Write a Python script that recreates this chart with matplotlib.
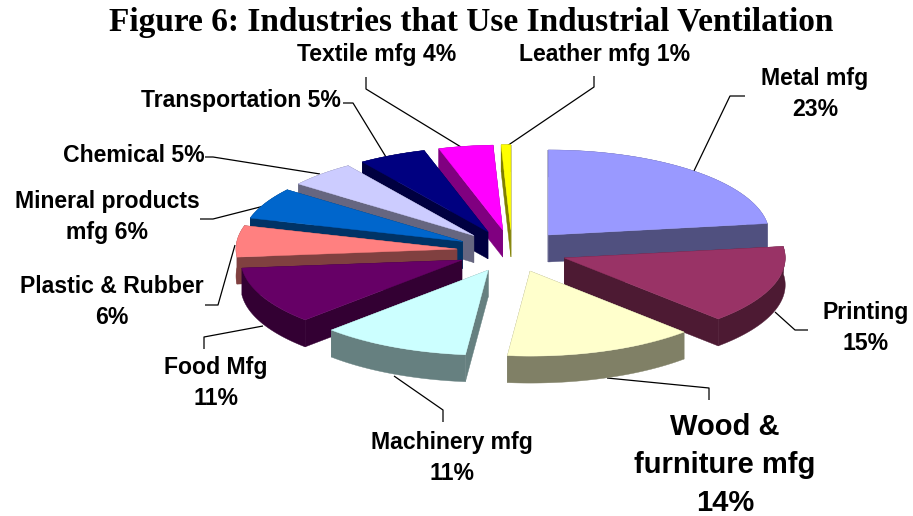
import numpy as np
import matplotlib
matplotlib.use('Agg')
import matplotlib.pyplot as plt
from matplotlib.patches import Polygon

# Data
categories = ['Metal mfg', 'Printing', 'Wood & furniture mfg', 'Machinery mfg', 'Food Mfg',
              'Plastic & Rubber', 'Mineral products mfg', 'Chemical', 'Transportation',
              'Textile mfg', 'Leather mfg']
values = [23, 15, 14, 11, 11, 6, 6, 5, 5, 4, 0.7]   # leather slice reads narrower than a full 1%
top_colors = ['#9999FF', '#993366', '#FFFFCC', '#CCFFFF', '#660066', '#FF8080',
              '#0066CC', '#CCCCFF', '#000080', '#FF00FF', '#FFFF00']
side_colors = ['#50507F', '#4D1A33', '#808066', '#668080', '#330033', '#804040',
               '#003366', '#666680', '#000040', '#800080', '#808000']

W, H = 913, 516
CX, CY, A, B, DEPTH, EXPLODE = 512, 251, 221, 85, 27, 0.25

fig = plt.figure(figsize=(W / 100, H / 100), dpi=100, facecolor='white')
ax = fig.add_axes([0, 0, 1, 1])
ax.set_xlim(0, W)
ax.set_ylim(H, 0)
ax.axis('off')

fracs = np.array(values, float) / sum(values)
edges = np.concatenate([[0], np.cumsum(fracs)]) * 2 * np.pi
mids = (edges[:-1] + edges[1:]) / 2

for i in np.argsort(-np.cos(mids)):
    t0, t1, m = edges[i], edges[i + 1], mids[i]
    ax0 = CX + EXPLODE * A * np.sin(m)
    ay0 = CY - EXPLODE * B * np.cos(m)
    t = np.linspace(t0, t1, 60)
    xs = ax0 + A * np.sin(t)
    ys = ay0 - B * np.cos(t)
    top = np.column_stack([np.r_[ax0, xs], np.r_[ay0, ys]])
    sc, tc = side_colors[i], top_colors[i]
    # two radial cut faces, then the outer rim
    for (px, py) in [(xs[0], ys[0]), (xs[-1], ys[-1])]:
        ax.add_patch(Polygon([(ax0, ay0), (px, py), (px, py + DEPTH), (ax0, ay0 + DEPTH)],
                             fc=sc, ec=sc, lw=0.3, zorder=2))
    rim = np.column_stack([np.r_[xs, xs[::-1]], np.r_[ys, ys[::-1] + DEPTH]])
    ax.add_patch(Polygon(rim, fc=sc, ec=sc, lw=0.3, zorder=2))
    ax.add_patch(Polygon(top, fc=tc, ec=tc, lw=0.3, zorder=2))

# Leader lines
leaders = [
    [(693, 173), (730, 96), (745, 96)],
    [(775, 312), (795, 330), (808, 330)],
    [(607, 378), (709, 388), (709, 400)],
    [(394, 376), (443, 410), (443, 422)],
    [(263, 326), (204, 337), (204, 349)],
    [(235, 245), (218, 305), (205, 305)],
    [(264, 206), (213, 219), (200, 219)],
    [(320, 174), (213, 157), (205, 157)],
    [(386, 157), (353, 103), (343, 103)],
    [(461, 147), (366, 89), (366, 77)],
    [(507, 146), (594, 87), (594, 76)],
]
for pts in leaders:
    p = np.array(pts)
    ax.plot(p[:, 0], p[:, 1], color='black', lw=0.9, zorder=1, solid_capstyle='butt')

labels = [
    ('Metal mfg\n23%', 815, 94, 16.6, 1.4),
    ('Printing\n15%', 866, 328, 16.6, 1.4),
    ('Wood &\nfurniture mfg\n14%', 725, 465, 21, 1.45),
    ('Machinery mfg\n11%', 452, 458, 16.6, 1.4),
    ('Food Mfg\n11%', 216, 383, 16.6, 1.4),
    ('Plastic & Rubber\n6%', 112, 302, 16.6, 1.4),
    ('Mineral products\nmfg 6%', 107, 217, 16.6, 1.4),
    ('Chemical 5%', 134, 155, 16.6, 1.4),
    ('Transportation 5%', 241, 100, 16.6, 1.4),
    ('Textile mfg 4%', 377, 55, 16.6, 1.4),
    ('Leather mfg 1%', 605, 55, 16.6, 1.4),
]
for s, x, y, fs, ls in labels:
    ax.text(x, y, s, ha='center', va='center', fontsize=fs, fontweight='bold',
            family='Liberation Sans', color='black', linespacing=ls, zorder=3)

ax.text(471, 22, 'Figure 6: Industries that Use Industrial Ventilation', ha='center', va='center',
        fontsize=24, fontweight='bold', family='Liberation Serif', color='black', zorder=3)

fig.savefig('out.png', dpi=100, facecolor='white')
